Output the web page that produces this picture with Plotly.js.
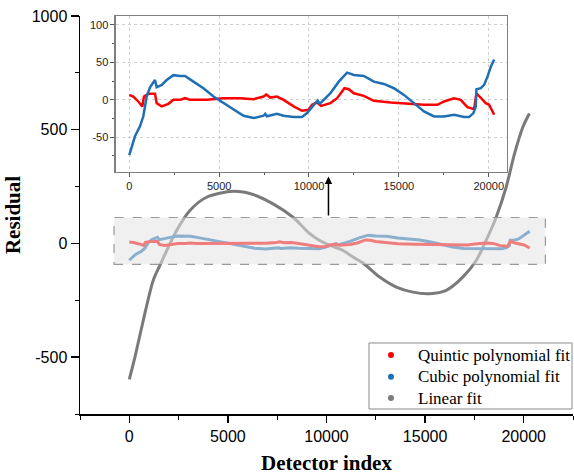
<!DOCTYPE html>
<html>
<head>
<meta charset="utf-8">
<script src="https://cdn.plot.ly/plotly-3.0.1.min.js"></script>
<style>html,body{margin:0;padding:0;background:#fff;}#chart{width:574px;height:475px;}</style>
</head>
<body>
<div id="chart"></div>
<script>
// Linear fit residuals
const linearX = [0, 289, 709, 1215, 1554, 2400, 3073, 3919, 5266, 6278, 7291, 8304, 9149, 9656, 10157, 10838, 11342, 11848, 12694, 13539, 14380, 15225, 16071, 16911, 17590, 18096, 18603, 19109, 19529, 19949, 20289];
const linearY = [-598, -499, -338, -162, -96, 57, 145, 203, 229, 215, 174, 115, 43, 13, -8, -31, -60, -86, -148, -192, -214, -221, -206, -148, -75, 13, 115, 247, 393, 510, 571];

// Cubic polynomial fit residuals
const cubicX = [0, 130, 316, 595, 781, 874, 967, 1153, 1431, 1524, 1803, 2082, 2454, 2826, 3104, 3569, 4127, 4684, 5242, 5800, 6358, 6916, 7473, 7566, 7659, 8217, 8588, 9146, 9611, 9890, 10169, 10355, 10485, 10597, 10820, 11192, 11657, 12121, 12493, 13051, 13609, 14166, 14724, 15282, 15840, 16397, 16955, 17513, 18070, 18628, 18907, 19149, 19279, 19316, 19558, 19744, 19930, 20116, 20302];
const cubicY = [-73.9, -62, -48.7, -35.4, -22, -9, 4.4, 16.8, 26.5, 16.8, 20, 26.5, 33, 31.9, 31.9, 24.3, 15.5, 4.4, -4.4, -13.3, -21.2, -24.3, -21.2, -18.6, -22, -18.6, -21.2, -23, -23, -17.7, -8.8, -4.4, -0.9, -5.3, 0, 8.8, 24.3, 36.3, 33.2, 31.9, 24.3, 21.2, 15.5, 6.6, -4.4, -15.5, -22.1, -22.1, -19.9, -23, -23, -17.7, -8.8, 14.2, 15.5, 20, 31, 44.2, 54];

// Quintic polynomial fit residuals
const quinticX = [0, 223, 502, 725, 818, 1060, 1431, 1524, 1803, 2175, 2454, 2826, 3104, 3383, 4313, 5242, 6172, 6916, 7473, 7622, 7845, 8217, 8588, 9146, 9611, 9983, 10169, 10448, 10671, 11192, 11564, 11973, 12214, 12493, 13051, 13609, 14538, 15468, 16397, 17141, 17513, 18070, 18442, 18814, 19186, 19316, 19558, 19837, 20023, 20302];
const quinticY = [6.6, 4.4, -2.2, -8.8, 4.4, 8, 8, -4.4, -8.8, -5.3, 0, 0, 2.2, 0, 0, 2.2, 2.2, 0.9, 4.4, 7, 3, 4.4, 0, -8.8, -14.6, -13.3, -6.6, -3.5, -8, -4.4, 2.2, 15.5, 14.2, 8.8, 5.3, -1.3, -3.5, -5.3, -6.6, -6.6, -2.2, 2.2, 0, -9.7, -12.4, 8.8, 2.2, -4.4, -6.6, -19.9];

// Tick labels
const mainXTicks = [0, 5000, 10000, 15000, 20000];
const mainXLabels = ["0", "5000", "10000", "15000", "20000"];
const mainYTicks = [-500, 0, 500, 1000];
const mainYLabels = ["-500", "0", "500", "1000"];
const insetYTicks = [-50, 0, 50, 100];
const insetYLabels = ["-50", "0", "50", "100"];

const seriesNames = ["Quintic polynomial fit", "Cubic polynomial fit", "Linear fit"];
const colRed = "#ff0000", colBlue = "#1f6fb4", colGray = "#7a7a7a";
const seriesColors = [colRed, colBlue, colGray];

const traces = [
  {x: linearX, y: linearY, mode: "lines", line: {color: colGray, width: 3, shape: "spline", smoothing: 0.8}, showlegend: false, xaxis: "x", yaxis: "y"},
  {x: cubicX, y: cubicY, mode: "lines", line: {color: colBlue, width: 3}, showlegend: false, xaxis: "x", yaxis: "y"},
  {x: quinticX, y: quinticY, mode: "lines", line: {color: colRed, width: 3}, showlegend: false, xaxis: "x", yaxis: "y"},
  {x: quinticX, y: quinticY, mode: "lines", line: {color: colRed, width: 2.5}, showlegend: false, xaxis: "x2", yaxis: "y2"},
  {x: cubicX, y: cubicY, mode: "lines", line: {color: colBlue, width: 2.5}, showlegend: false, xaxis: "x2", yaxis: "y2"}
];

// Legend drawn as box + dots + text (paper coordinates)
const legX0 = 0.5862, legX1 = 0.998, legY0 = 0.0126, legY1 = 0.1784;
const legRows = [0.1482, 0.0937, 0.0402];
const shapes = [
  {type: "rect", xref: "x", yref: "y", x0: -775, x1: 21100, y0: -92, y1: 114,
   fillcolor: "rgba(228,228,228,0.55)", line: {color: "#9a9a9a", width: 1.2, dash: "dash"}, layer: "above"},
  {type: "rect", xref: "paper", yref: "paper", x0: legX0, x1: legX1, y0: legY0, y1: legY1,
   fillcolor: "#ffffff", line: {color: "#8a8a8a", width: 1}, layer: "above"}
];
const annotations = [
  {xref: "x", yref: "y", axref: "x", ayref: "y", x: 10100, y: 294, ax: 10100, ay: 116,
   showarrow: true, arrowhead: 2, arrowsize: 1, arrowwidth: 1.5, arrowcolor: "#000", text: ""}
];
seriesNames.forEach((name, i) => {
  shapes.push({type: "circle", xref: "paper", yref: "paper", xsizemode: "pixel", ysizemode: "pixel",
    xanchor: 0.6308, yanchor: legRows[i], x0: -3, x1: 3, y0: -3, y1: 3,
    fillcolor: seriesColors[i], line: {width: 0}, layer: "above"});
  annotations.push({xref: "paper", yref: "paper", x: 0.6815, y: legRows[i], xanchor: "left", yanchor: "middle",
    showarrow: false, text: name,
    font: {family: "Liberation Serif, Times New Roman, serif", size: 17, color: "#000"}});
});

const layout = {
  width: 574, height: 475,
  margin: {l: 80, r: 1, t: 16, b: 61},
  paper_bgcolor: "#fff", plot_bgcolor: "rgba(0,0,0,0)",
  font: {family: "Liberation Sans, Arial, sans-serif", color: "#000"},
  showlegend: false,
  xaxis: {domain: [0, 1], range: [-2500, 22500], showline: true, linecolor: "#000", linewidth: 1.5,
    ticks: "outside", ticklen: 7, tickwidth: 1.5, tickcolor: "#000",
    tickmode: "array", tickvals: mainXTicks, ticktext: mainXLabels,
    minor: {tickmode: "linear", tick0: 0, dtick: 2500, ticks: "outside", ticklen: 4, tickcolor: "#000", tickwidth: 1},
    showgrid: false, zeroline: false, tickfont: {size: 16, color: "#000"},
    title: {text: "Detector index", font: {family: "Liberation Serif, Times New Roman, serif", size: 21, weight: "bold", color: "#000"}, standoff: 14}},
  yaxis: {domain: [0, 1], range: [-750, 1000], showline: true, linecolor: "#000", linewidth: 1.5,
    ticks: "outside", ticklen: 8, tickwidth: 1.5, tickcolor: "#000",
    tickmode: "array", tickvals: mainYTicks, ticktext: mainYLabels,
    minor: {tickmode: "linear", tick0: 0, dtick: 250, ticks: "outside", ticklen: 4, tickcolor: "#000", tickwidth: 1},
    showgrid: false, zeroline: false, tickfont: {size: 16, color: "#000"},
    title: {text: "Residual", font: {family: "Liberation Serif, Times New Roman, serif", size: 21, weight: "bold", color: "#000"}, standoff: 5}},
  xaxis2: {domain: [0.073, 0.8655], anchor: "y2", range: [-740, 21000], showline: true, mirror: true,
    linecolor: "#808080", linewidth: 1.5, ticks: "outside", ticklen: 4, tickcolor: "#555",
    tickmode: "array", tickvals: mainXTicks, ticktext: mainXLabels,
    minor: {tickmode: "linear", tick0: 0, dtick: 2500, ticks: "outside", ticklen: 2, tickcolor: "#555"},
    showgrid: true, gridcolor: "#cfcfcf", griddash: "dot", gridwidth: 1, zeroline: false,
    tickfont: {size: 11, color: "#222"}},
  yaxis2: {domain: [0.6088, 1], anchor: "x2", range: [-96, 112], showline: true, mirror: true,
    linecolor: "#808080", linewidth: 1.5, ticks: "outside", ticklen: 4, tickcolor: "#555",
    tickmode: "array", tickvals: insetYTicks, ticktext: insetYLabels,
    minor: {tickmode: "linear", tick0: 0, dtick: 25, ticks: "outside", ticklen: 2, tickcolor: "#555"},
    showgrid: true, gridcolor: "#cfcfcf", griddash: "dot", gridwidth: 1, zeroline: false,
    tickfont: {size: 11, color: "#222"}},
  shapes: shapes,
  annotations: annotations
};

Plotly.newPlot("chart", traces, layout, {displayModeBar: false, staticPlot: true});
</script>
</body>
</html>
